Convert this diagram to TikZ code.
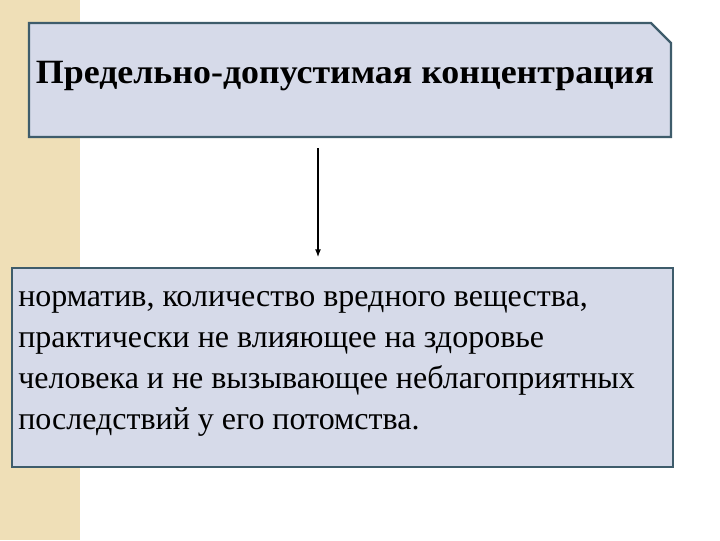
\documentclass[tikz,border=0pt]{standalone}
\usepackage{fontspec}
\setmainfont{Liberation Serif}
\newfontfamily\widebold[FakeStretch=1.055]{Liberation Serif}
\usetikzlibrary{arrows.meta}
\definecolor{strip}{HTML}{EFDFB7}
\definecolor{boxfill}{HTML}{D6DAE9}
\definecolor{boxline}{HTML}{3E5C6B}
\tikzset{
    termbox/.style={draw=boxline, fill=boxfill, line width=1.6pt},
    arr/.style={-{Latex[length=6pt,width=4.5pt]}, line width=1.5pt, shorten >=8pt}
}
\begin{document}
\begin{tikzpicture}[x=0.75pt, y=-0.75pt]
            \useasboundingbox (0,0) rectangle (720,540);
            \fill[white] (0,0) rectangle (720,540);
            \fill[strip] (0,0) rectangle (80,540);
            % top box, cut corner
            \draw[termbox] (29,23) -- (651,23) -- (671,43) -- (671,137) -- (29,137) -- cycle;
            \node[anchor=base, inner sep=0pt, font=\widebold\bfseries\fontsize{25.5pt}{30pt}\selectfont]
                (pdk) at (345,83) {Предельно-допустимая концентрация};
            % bottom box
            \draw[termbox] (12,268) rectangle (673,467);
            \coordinate (def) at (342.5,268);
            \node[anchor=base west, align=left, inner sep=0pt,
                  font=\fontsize{24pt}{30.75pt}\selectfont] (deftext) at (18,429)
                {норматив, количество вредного вещества,\\
                 практически не влияющее на здоровье\\
                 человека и не вызывающее неблагоприятных\\
                 последствий у его потомства.};
            % arrow
            \coordinate (a) at (318,148);
            \draw[arr] (a) -- (a |- def);
        \end{tikzpicture}
\end{document}
